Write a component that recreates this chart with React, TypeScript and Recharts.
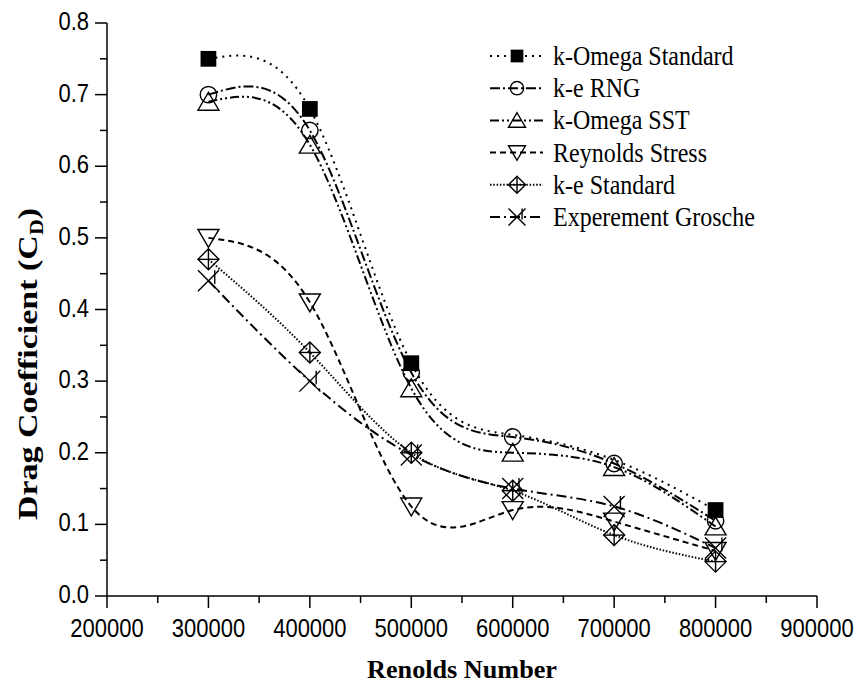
import React from "react";
import { LineChart, Line, XAxis, YAxis, Customized } from "recharts";

// Reynolds numbers (x) and drag coefficients per turbulence model
const reynoldsNumbers = [300000, 400000, 500000, 600000, 700000, 800000];
const kOmegaStandard = [0.75, 0.68, 0.325, 0.225, 0.19, 0.12];
const keRng = [0.7, 0.65, 0.312, 0.222, 0.185, 0.105];
const kOmegaSst = [0.69, 0.63, 0.29, 0.2, 0.18, 0.097];
const reynoldsStress = [0.5, 0.41, 0.125, 0.12, 0.104, 0.063];
const keStandard = [0.47, 0.34, 0.2, 0.147, 0.085, 0.048];
const grosche = [0.44, 0.3, 0.197, 0.15, 0.125, 0.067];

const xTicks = [
  200000, 250000, 300000, 350000, 400000, 450000, 500000, 550000, 600000,
  650000, 700000, 750000, 800000, 850000, 900000,
];
const yTicks = [
  0, 0.05, 0.1, 0.15, 0.2, 0.25, 0.3, 0.35, 0.4, 0.45, 0.5, 0.55, 0.6, 0.65,
  0.7, 0.75, 0.8,
];
const yLabels = ["0.0", "0.1", "0.2", "0.3", "0.4", "0.5", "0.6", "0.7", "0.8"];

const data = reynoldsNumbers.map((re, i) => ({
  re,
  kos: kOmegaStandard[i],
  rng: keRng[i],
  sst: kOmegaSst[i],
  rs: reynoldsStress[i],
  kes: keStandard[i],
  exp: grosche[i],
}));

const sansFont = "'Liberation Sans', Arial, sans-serif";
const serifFont = "'Liberation Serif', 'Times New Roman', serif";

type MarkerKind = "square" | "circle" | "triangle" | "invtriangle" | "diamond" | "cross";

const Marker = ({ kind, cx, cy, s }: { kind: MarkerKind; cx: number; cy: number; s: number }) => {
  const st = { stroke: "#000", strokeWidth: 1.4, fill: "none" };
  switch (kind) {
    case "square":
      return <rect x={cx - s * 0.75} y={cy - s * 0.75} width={s * 1.5} height={s * 1.5} fill="#000" />;
    case "circle":
      return <circle cx={cx} cy={cy} r={s * 0.78} {...st} />;
    case "triangle":
      return (
        <polygon
          points={`${cx},${cy - s * 0.9} ${cx + s},${cy + s * 0.8} ${cx - s},${cy + s * 0.8}`}
          {...st}
        />
      );
    case "invtriangle":
      return (
        <polygon
          points={`${cx},${cy + s * 0.9} ${cx + s},${cy - s * 0.8} ${cx - s},${cy - s * 0.8}`}
          {...st}
        />
      );
    case "diamond":
      return (
        <g {...st}>
          <polygon points={`${cx},${cy - s} ${cx + s},${cy} ${cx},${cy + s} ${cx - s},${cy}`} />
          <line x1={cx} y1={cy - s} x2={cx} y2={cy + s} />
          <line x1={cx - s} y1={cy} x2={cx + s} y2={cy} />
        </g>
      );
    default:
      return (
        <g {...st}>
          <line x1={cx - s} y1={cy - s} x2={cx + s} y2={cy + s} />
          <line x1={cx - s} y1={cy + s} x2={cx + s} y2={cy - s} />
          <line x1={cx + s * 0.6} y1={cy - s} x2={cx + s * 0.6} y2={cy + s * 0.3} />
        </g>
      );
  }
};

const series = [
  { key: "kos", name: "k-Omega Standard", kind: "square" as MarkerKind, dash: "2 5", hide: [3, 4] },
  { key: "rng", name: "k-e RNG", kind: "circle" as MarkerKind, dash: "10 3 2 3", hide: [] },
  { key: "sst", name: "k-Omega SST", kind: "triangle" as MarkerKind, dash: "9 3 2 3 2 3", hide: [] },
  { key: "rs", name: "Reynolds Stress", kind: "invtriangle" as MarkerKind, dash: "6 4", hide: [] },
  { key: "kes", name: "k-e Standard", kind: "diamond" as MarkerKind, dash: "1.5 1.8", hide: [] },
  { key: "exp", name: "Experement Grosche", kind: "cross" as MarkerKind, dash: "10 4 2 4", hide: [] },
];

const XTick = (props: any) => {
  const { x, y, payload } = props;
  const major = payload.value % 100000 === 0;
  return (
    <g>
      <line x1={x} y1={y} x2={x} y2={y + (major ? 12 : 7)} stroke="#000" strokeWidth={1.5} />
      {major && (
        <text
          transform={`translate(${x}, ${y + 41}) scale(1, 1.18)`}
          textAnchor="middle"
          fontFamily={sansFont}
          fontSize={22}
          fill="#000"
        >
          {payload.value}
        </text>
      )}
    </g>
  );
};

const YTick = (props: any) => {
  const { x, y, payload } = props;
  const idx = Math.round(payload.value * 20);
  const major = idx % 2 === 0;
  return (
    <g>
      <line x1={x - (major ? 12 : 7)} y1={y} x2={x} y2={y} stroke="#000" strokeWidth={1.5} />
      {major && (
        <text
          transform={`translate(${x - 18}, ${y + 7}) scale(1, 1.18)`}
          textAnchor="end"
          fontFamily={sansFont}
          fontSize={22}
          fill="#000"
        >
          {yLabels[idx / 2]}
        </text>
      )}
    </g>
  );
};

const LegendBox = () => (
  <g>
    {series.map((s, i) => {
      const cy = 56 + i * 32.2;
      return (
        <g key={s.key}>
          <line x1={490} y1={cy} x2={543} y2={cy} stroke="#000" strokeWidth={2} strokeDasharray={s.dash} />
          <Marker kind={s.kind} cx={517} cy={cy} s={8.5} />
          <text
            transform={`translate(553, ${cy + 9}) scale(1, 1.15)`}
            fontFamily={serifFont}
            fontSize={24}
            fill="#000"
          >
            {s.name}
          </text>
        </g>
      );
    })}
  </g>
);

export default function App() {
  return (
    <div style={{ position: "absolute", left: 0, top: 0, background: "#fff" }}>
      <LineChart width={856} height={684} data={data} margin={{ top: 23, right: 39, bottom: 0, left: 0 }}>
        <XAxis
          dataKey="re"
          type="number"
          domain={[200000, 900000]}
          ticks={xTicks}
          interval={0}
          height={88}
          tickSize={0}
          tickMargin={0}
          tickLine={false}
          tick={<XTick />}
          axisLine={{ stroke: "#000", strokeWidth: 1.5 }}
          label={{
            content: (p: any) => {
              const vb = p.viewBox;
              return (
                <text
                  x={vb.x + vb.width / 2}
                  y={678}
                  textAnchor="middle"
                  fontFamily={serifFont}
                  fontWeight="bold"
                  fontSize={25}
                  textLength={190}
                  lengthAdjust="spacingAndGlyphs"
                  fill="#000"
                >
                  Renolds Number
                </text>
              );
            },
          }}
        />
        <YAxis
          type="number"
          domain={[0, 0.8]}
          ticks={yTicks}
          interval={0}
          width={107}
          tickSize={0}
          tickMargin={0}
          tickLine={false}
          tick={<YTick />}
          axisLine={{ stroke: "#000", strokeWidth: 1.5 }}
          label={{
            content: () => (
              <text
                transform="translate(37, 364) rotate(-90)"
                textAnchor="middle"
                fontFamily={serifFont}
                fontWeight="bold"
                fontSize={28}
                textLength={312}
                lengthAdjust="spacingAndGlyphs"
                fill="#000"
              >
                Drag Coefficient (C<tspan fontSize={18} dy={6}>D</tspan>
                <tspan dy={-6}>)</tspan>
              </text>
            ),
          }}
        />
        {series.map((s) => (
          <Line
            key={s.key}
            dataKey={s.key}
            name={s.name}
            type="natural"
            stroke="#000"
            strokeWidth={2}
            strokeDasharray={s.dash}
            isAnimationActive={false}
            activeDot={false}
            dot={(p: any) =>
              s.hide.includes(p.index) ? (
                <g key={`${s.key}-${p.index}`} />
              ) : (
                <g key={`${s.key}-${p.index}`}>
                  <Marker kind={s.kind} cx={p.cx} cy={p.cy} s={10.5} />
                </g>
              )
            }
          />
        ))}
        <Customized component={LegendBox} />
      </LineChart>
    </div>
  );
}
